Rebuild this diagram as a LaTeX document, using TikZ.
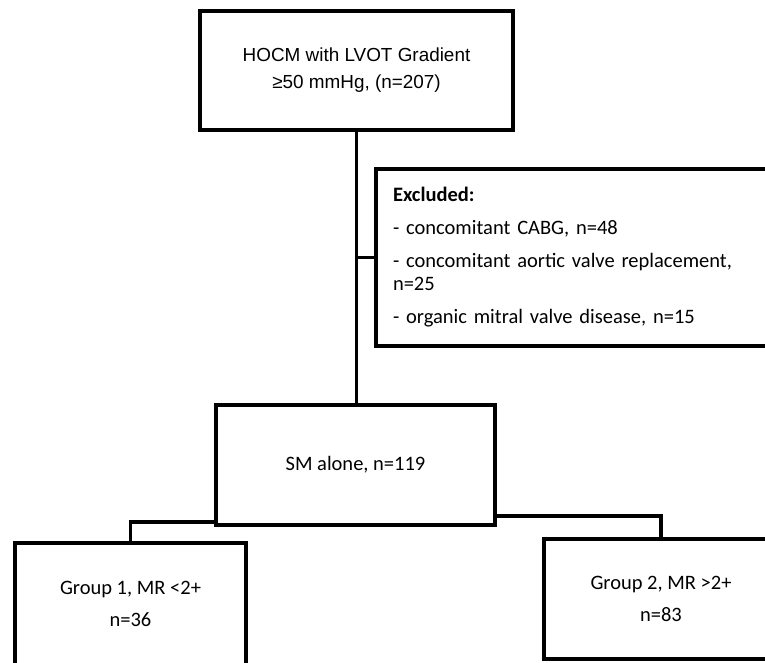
\documentclass[tikz,border=0pt]{standalone}
\usepackage{fontspec}
\setmainfont{Carlito}
\newfontfamily\arialf{Liberation Sans}
\begin{document}
\begin{tikzpicture}[x=1pt,y=-1pt,
  box/.style={draw=black, line width=3.5pt, rectangle, inner sep=0pt, align=center, font=\fontsize{20.5}{32}\selectfont},
  link/.style={draw=black, line width=3.5pt}]
\useasboundingbox (0,0) rectangle (765,662);
\clip (0,0) rectangle (765,662);
\node[box, minimum width=313pt, minimum height=119pt, font=\arialf\fontsize{18.9}{27}\selectfont] (top) at (356.5,70.5) {HOCM with LVOT Gradient\\≥50 mmHg, (n=207)};
\node[box, align=left, text width=396pt, inner xsep=17pt, minimum height=177pt, font=\fontsize{20.5}{23}\selectfont] (excl) at (591,257.5) {\textbf{Excluded:}\\[10pt]- concomitant CABG, n=48\\[10pt]- concomitant aortic valve replacement,\\n=25\\[10pt]- organic mitral valve disease, n=15};
\node[box, minimum width=279pt, minimum height=120pt] (sm) at (355.5,465) {SM alone, n=119};
\node[box, minimum width=231pt, minimum height=122pt] (g1) at (130.5,604) {Group 1, MR <2+\\n=36};
\node[box, minimum width=234pt, minimum height=120pt] (g2) at (661,599) {Group 2, MR >2+\\n=83};
\draw[link] (top.south) -- (top.south |- sm.north);
\draw[link] (top.south |- excl.west) -- (excl.west);
\draw[link] ([yshift=5pt]sm.south west) -| (g1.north);
\draw[link] ([yshift=11pt]sm.south east) -| (g2.north);
\end{tikzpicture}
\end{document}
